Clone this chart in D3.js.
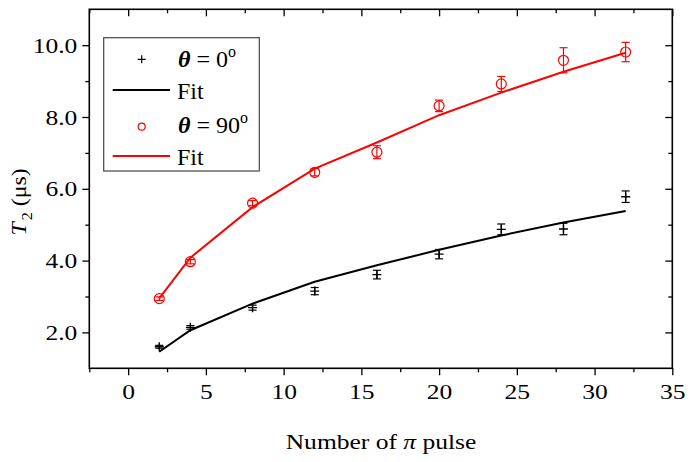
<!DOCTYPE html>
<html>
<body style="margin: 0; background: #fff">
  <script src="https://cdn.jsdelivr.net/npm/d3@7"></script>

  <script>
    const pulses = [2, 4, 8, 12, 16, 20, 24, 28, 32];

    const t2Zero = [1.60, 2.14, 2.69, 3.15, 3.61, 4.18, 4.87, 4.88, 5.78];
    const errZero = [0.04, 0.05, 0.07, 0.10, 0.12, 0.13, 0.15, 0.16, 0.16];
    const fitZero = [1.46, 2.06, 2.80, 3.41, 3.87, 4.30, 4.70, 5.06, 5.38];

    const t2Ninety = [2.94, 3.97, 5.60, 6.46, 7.02, 8.31, 8.92, 9.58, 9.81];
    const errNinety = [0.05, 0.06, 0.07, 0.10, 0.18, 0.16, 0.21, 0.35, 0.27];
    const fitNinety = [2.95, 4.08, 5.49, 6.56, 7.29, 8.05, 8.68, 9.26, 9.79];

    const xTicks = [0, 5, 10, 15, 20, 25, 30, 35];
    const xMinor = [-2.5, 2.5, 7.5, 12.5, 17.5, 22.5, 27.5, 32.5];
    const yTicks = [2, 4, 6, 8, 10];
    const yMinor = [3, 5, 7, 9];

    const start = () => {
      const width = 690;
      const height = 462;
      const left = 89.3, right = 672.3, top = 9.3, bottom = 368.3;
      const font = "'Liberation Serif', 'Times New Roman', serif";
      const stretch = 1.16;

      const x = d3.scaleLinear().domain([-2.5, 35]).range([left, right]);
      const y = d3.scaleLinear().domain([1, 11]).range([bottom, top]);

      const svg = d3.select("body").append("svg")
        .attr("width", width)
        .attr("height", height)
        .style("font-family", font);

      // axes: outward ticks bottom/left, inward ticks top/right
      const addAxis = (axis, tr, ticks, size, labels) => {
        const g = svg.append("g").attr("transform", tr)
          .call(axis.tickValues(ticks).tickSize(size).tickPadding(8)
            .tickFormat(labels ? labels : () => ""));
        g.select(".domain").remove();
        g.selectAll("line").attr("stroke", "#000").attr("stroke-width", 1.3);
        g.selectAll("text").style("font-size", "22px").style("font-family", font).attr("fill", "#000");
        return g;
      };

      const xAx = addAxis(d3.axisBottom(x), `translate(0,${bottom})`, xTicks, 7, d3.format("d"));
      xAx.selectAll("text").attr("transform", `scale(${stretch},1)`);
      addAxis(d3.axisBottom(x), `translate(0,${bottom})`, xMinor, 4, null);
      const yAx = addAxis(d3.axisLeft(y), `translate(${left},0)`, yTicks, 7, d3.format(".1f"));
      yAx.selectAll("text").attr("x", -12 / stretch).attr("transform", `scale(${stretch},1)`);
      addAxis(d3.axisLeft(y), `translate(${left},0)`, yMinor, 4, null);
      addAxis(d3.axisTop(x), `translate(0,${top})`, xTicks, -7, null);
      addAxis(d3.axisTop(x), `translate(0,${top})`, xMinor, -4, null);
      addAxis(d3.axisRight(y), `translate(${right},0)`, yTicks, -7, null);
      addAxis(d3.axisRight(y), `translate(${right},0)`, yMinor, -4, null);

      svg.append("rect")
        .attr("x", left).attr("y", top)
        .attr("width", right - left).attr("height", bottom - top)
        .attr("fill", "none").attr("stroke", "#000").attr("stroke-width", 1.6);

      // fits
      const line = d3.line().x((d) => x(d[0])).y((d) => y(d[1]));
      const drawFit = (vals, color) => {
        svg.append("path")
          .datum(pulses.map((p, i) => [p, vals[i]]))
          .attr("d", line)
          .attr("fill", "none")
          .attr("stroke", color)
          .attr("stroke-width", 2);
      };
      drawFit(fitZero, "#000");
      drawFit(fitNinety, "#ff0000");

      // error bars
      const drawErr = (vals, errs, color) => {
        const data = pulses.map((p, i) => ({x: p, y: vals[i], e: errs[i]}));
        const g = svg.append("g").attr("stroke", color).attr("stroke-width", 1.2);
        g.selectAll(".v").data(data).enter().append("line")
          .attr("x1", (d) => x(d.x)).attr("x2", (d) => x(d.x))
          .attr("y1", (d) => y(d.y - d.e)).attr("y2", (d) => y(d.y + d.e));
        [-1, 1].forEach((s) => {
          g.selectAll(".c" + s).data(data).enter().append("line")
            .attr("x1", (d) => x(d.x) - 4).attr("x2", (d) => x(d.x) + 4)
            .attr("y1", (d) => y(d.y + s * d.e)).attr("y2", (d) => y(d.y + s * d.e));
        });
        return data;
      };

      const zeroData = drawErr(t2Zero, errZero, "#000");
      const ninetyData = drawErr(t2Ninety, errNinety, "#ff0000");

      svg.append("g").selectAll("path").data(zeroData).enter().append("path")
        .attr("d", (d) => `M${x(d.x) - 4.5},${y(d.y)}H${x(d.x) + 4.5}M${x(d.x)},${y(d.y) - 4.5}V${y(d.y) + 4.5}`)
        .attr("stroke", "#000").attr("stroke-width", 1.4);

      svg.append("g").selectAll("circle").data(ninetyData).enter().append("circle")
        .attr("cx", (d) => x(d.x)).attr("cy", (d) => y(d.y))
        .attr("r", 5)
        .attr("fill", "none").attr("stroke", "#ff0000").attr("stroke-width", 1.2);

      // legend
      const lg = svg.append("g");
      lg.append("rect")
        .attr("x", 103.7).attr("y", 37.7).attr("width", 155.6).attr("height", 133.3)
        .attr("fill", "#fff").attr("stroke", "#444").attr("stroke-width", 1.2);
      lg.append("path").attr("d", "M137.7,59.3H145.7M141.7,55.3V63.3")
        .attr("stroke", "#000").attr("stroke-width", 1.2);
      lg.append("line").attr("x1", 112.7).attr("x2", 170).attr("y1", 90).attr("y2", 90)
        .attr("stroke", "#000").attr("stroke-width", 2);
      lg.append("circle").attr("cx", 141.7).attr("cy", 126.7).attr("r", 3.5)
        .attr("fill", "none").attr("stroke", "#ff0000").attr("stroke-width", 1.2);
      lg.append("line").attr("x1", 112.7).attr("x2", 170).attr("y1", 156).attr("y2", 156)
        .attr("stroke", "#ff0000").attr("stroke-width", 2);

      const thetaLabel = (yb, val) => {
        const t = lg.append("text").attr("x", 178).attr("y", yb)
          .style("font-size", "24px").attr("fill", "#000");
        t.append("tspan").text("\u03b8").style("font-style", "italic").style("font-weight", "bold");
        t.append("tspan").text(" = " + val);
        t.append("tspan").text("o").attr("dy", -10).style("font-size", "16px");
      };
      thetaLabel(67, "0");
      thetaLabel(133, "90");
      lg.append("text").attr("x", 177).attr("y", 99).style("font-size", "24px").text("Fit");
      lg.append("text").attr("x", 177).attr("y", 165).style("font-size", "24px").text("Fit");

      // axis titles
      const xt = svg.append("text")
        .attr("transform", `translate(381,449) scale(${stretch},1)`)
        .attr("text-anchor", "middle")
        .style("font-size", "22px");
      xt.append("tspan").text("Number of ");
      xt.append("tspan").text("\u03c0").style("font-style", "italic");
      xt.append("tspan").text(" pulse");

      const yt = svg.append("text")
        .attr("transform", "translate(26,202) rotate(-90) scale(1.08,1)")
        .attr("text-anchor", "middle")
        .style("font-size", "22px");
      yt.append("tspan").text("T").style("font-style", "italic");
      yt.append("tspan").text("2").attr("dy", 6).style("font-size", "15px").attr("dx", 2);
      yt.append("tspan").text(" (\u03bcs)").attr("dy", -6);
    };

    document.addEventListener("DOMContentLoaded", () => {
      start();
    }, false);
  </script>
</body>
</html>
